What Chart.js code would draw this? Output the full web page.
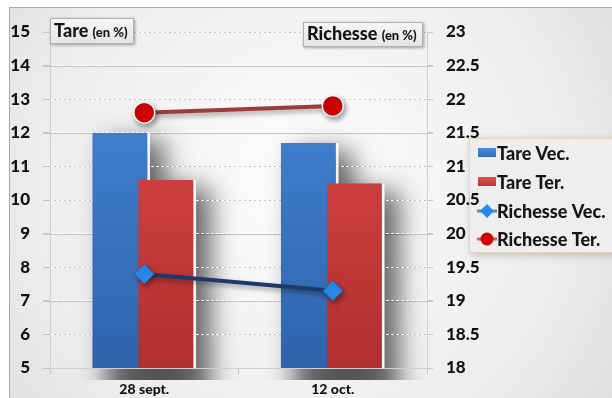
<!DOCTYPE html>
<html><head><meta charset="utf-8">
<script src="https://cdn.jsdelivr.net/npm/chart.js@4/dist/chart.umd.min.js"></script>
<style>html,body{margin:0;padding:0;background:#fff;}#wrap{width:612px;height:398px;position:relative}</style>
</head><body><div id="wrap"><canvas id="c" width="612" height="398"></canvas></div>
<script>
const categories = ['28 sept.', '12 oct.'];
const tareVec = [12.0, 11.7];
const tareTer = [10.6, 10.5];
const richesseVec = [19.4, 19.15];
const richesseTer = [21.8, 21.9];
const seriesNames = ['Tare Vec.', 'Tare Ter.', 'Richesse Vec.', 'Richesse Ter.'];
const leftTitle = ['Tare', '(en %)'];
const rightTitle = ['Richesse', '(en %)'];

const FONT = 'Lato, "DejaVu Sans", sans-serif';
const LEG = {x: 469, y: 138, w: 150, h: 115};

function vGrad(ctx, area, c1, c2) {
  const g = ctx.createLinearGradient(0, area.top, 0, area.bottom);
  g.addColorStop(0, c1); g.addColorStop(1, c2); return g;
}

const bgPlugin = {
  id: 'bg',
  beforeDraw(chart) {
    const ctx = chart.ctx, a = chart.chartArea;
    ctx.save();
    ctx.fillStyle = '#ffffff';
    ctx.fillRect(0, 0, 612, 398);
    const g = ctx.createRadialGradient(300, 170, 30, 300, 200, 420);
    g.addColorStop(0, '#fbfbfb');
    g.addColorStop(0.6, '#ededed');
    g.addColorStop(1, '#dadada');
    ctx.fillStyle = g;
    ctx.fillRect(9, 7, 603, 391);
    ctx.strokeStyle = '#a8a8a8';
    ctx.lineWidth = 1;
    ctx.beginPath();
    ctx.moveTo(9.5, 398); ctx.lineTo(9.5, 7.5); ctx.lineTo(612, 7.5);
    ctx.stroke();
    // grey underlay of the dashed grid lines
    const ys = chart.scales.y;
    ctx.strokeStyle = '#c4c4c4';
    ys.ticks.forEach(t => {
      const py = Math.round(ys.getPixelForValue(t.value)) + 0.5;
      ctx.beginPath(); ctx.moveTo(a.left - 7, py); ctx.lineTo(a.right + 6, py); ctx.stroke();
    });
    // soft drop shadows of the bars
    ctx.beginPath(); ctx.rect(a.left + 1, a.top, a.right - a.left - 1, a.bottom - a.top + 12); ctx.clip();
    [0, 1].forEach(di => {
      chart.getDatasetMeta(di).data.forEach(el => {
        const p = el.getProps(['x', 'y', 'base', 'width'], true);
        const left = p.x - p.width / 2;
        ctx.save();
        ctx.shadowColor = 'rgba(0,0,0,0.6)';
        ctx.shadowBlur = 26;
        ctx.shadowOffsetX = 2000 + 14;
        ctx.shadowOffsetY = 8;
        ctx.fillStyle = '#000';
        ctx.fillRect(left - 2000, p.y, p.width, p.base - p.y - 6);
        ctx.restore();
      });
    });
    ctx.restore();
    // legend box (drawn under the axis labels)
    ctx.save();
    ctx.shadowColor = 'rgba(0,0,0,0.22)'; ctx.shadowBlur = 8; ctx.shadowOffsetX = 2; ctx.shadowOffsetY = 2;
    ctx.fillStyle = '#eeeeee';
    ctx.fillRect(LEG.x, LEG.y, LEG.w, LEG.h);
    ctx.restore();
    ctx.save();
    ctx.strokeStyle = '#ddd8bc'; ctx.lineWidth = 1;
    ctx.strokeRect(LEG.x + 0.5, LEG.y + 0.5, LEG.w, LEG.h - 1);
    ctx.restore();
  }
};

const drawOrderPlugin = {
  id: 'drawOrder',
  beforeDatasetsDraw(chart) {
    // draw the first (blue) bar series before the others so the red one overlaps it
    const meta = chart.getDatasetMeta(0);
    const ctx = chart.ctx, a = chart.chartArea;
    ctx.save();
    ctx.beginPath(); ctx.rect(a.left, a.top, a.right - a.left, a.bottom - a.top); ctx.clip();
    meta.controller.draw();
    ctx.restore();
  },
  beforeDatasetDraw(chart, args) {
    if (args.index === 0) return false;
    const ctx = chart.ctx;
    ctx.save();
    if (args.meta.type !== 'bar') {
      ctx.shadowColor = 'rgba(0,0,0,0.35)'; ctx.shadowBlur = 5; ctx.shadowOffsetX = 2; ctx.shadowOffsetY = 3;
    }
  },
  afterDatasetDraw(chart, args) {
    if (args.index === 0) return;
    chart.ctx.restore();
  }
};

function drawTitleBox(ctx, x, y, w, h, parts) {
  ctx.save();
  ctx.shadowColor = 'rgba(0,0,0,0.35)'; ctx.shadowBlur = 3; ctx.shadowOffsetX = 1; ctx.shadowOffsetY = 1;
  const g = ctx.createLinearGradient(0, y, 0, y + h);
  g.addColorStop(0, '#f7f7f7'); g.addColorStop(1, '#e4e4e4');
  ctx.fillStyle = g; ctx.fillRect(x, y, w, h);
  ctx.restore();
  ctx.save();
  ctx.strokeStyle = '#b0b0b0'; ctx.lineWidth = 1;
  ctx.strokeRect(x + 0.5, y + 0.5, w - 1, h - 1);
  ctx.fillStyle = '#151515'; ctx.textBaseline = 'alphabetic';
  let cx = x + 4;
  ctx.font = '900 18px ' + FONT; ctx.fillText(parts[0], cx, y + h - 7);
  cx += ctx.measureText(parts[0] + ' ').width;
  ctx.font = '900 13px ' + FONT; ctx.fillText(parts[1], cx, y + h - 7);
  ctx.restore();
}

const overlayPlugin = {
  id: 'overlay',
  afterDraw(chart) {
    const ctx = chart.ctx;
    drawTitleBox(ctx, 50, 18, 84, 26, leftTitle);
    drawTitleBox(ctx, 303, 22, 120, 25, rightTitle);
    ctx.save();
    const ds = chart.data.datasets;
    const rows = [153, 182, 211, 239];
    ctx.font = '900 18px ' + FONT; ctx.textBaseline = 'middle'; ctx.fillStyle = '#161616';
    ds.forEach((d, i) => {
      const y = rows[i];
      if (d.type === 'bar') {
        const g = ctx.createLinearGradient(0, y - 5, 0, y + 5);
        g.addColorStop(0, d.legendColor[0]); g.addColorStop(1, d.legendColor[1]);
        ctx.fillStyle = g; ctx.fillRect(478, y - 5, 18, 9);
      } else {
        ctx.strokeStyle = d.legendLine; ctx.lineWidth = 3;
        ctx.beginPath(); ctx.moveTo(477, y); ctx.lineTo(497, y); ctx.stroke();
        ctx.fillStyle = d.pointBackgroundColor;
        ctx.beginPath();
        if (d.pointStyle === 'rectRot') {
          ctx.moveTo(487, y - 7); ctx.lineTo(494, y); ctx.lineTo(487, y + 7); ctx.lineTo(480, y); ctx.closePath();
        } else {
          ctx.arc(487, y, 6.5, 0, Math.PI * 2);
        }
        ctx.fill();
      }
      ctx.fillStyle = '#161616';
      ctx.fillText(d.label, 497, y + 1);
    });
    ctx.restore();
  }
};

const ctx = document.getElementById('c').getContext('2d');
const chart = new Chart(ctx, {
  data: {
    labels: categories,
    datasets: [
      {
        type: 'bar', label: seriesNames[0], data: tareVec, yAxisID: 'y', order: 0,
        backgroundColor: (c) => c.chart.chartArea ? vGrad(c.chart.ctx, c.chart.chartArea, '#4789db', '#2f63ab') : '#3a78c8',
        borderColor: 'rgba(255,255,255,0.9)', borderWidth: {top: 0, right: 3, bottom: 0, left: 0}, borderSkipped: false,
        categoryPercentage: 0.488, barPercentage: 1.26,
        legendColor: ['#4a8ee0', '#2f64ad']
      },
      {
        type: 'bar', label: seriesNames[1], data: tareTer, yAxisID: 'y', order: 0,
        backgroundColor: (c) => c.chart.chartArea ? vGrad(c.chart.ctx, c.chart.chartArea, '#e24a4a', '#b02f2f') : '#d04040',
        borderColor: 'rgba(255,255,255,0.95)', borderWidth: {top: 0, right: 3, bottom: 0, left: 0}, borderSkipped: false,
        categoryPercentage: 0.488, barPercentage: 1.26,
        legendColor: ['#e05050', '#b83232']
      },
      {
        type: 'line', label: seriesNames[2], data: richesseVec, yAxisID: 'y2', order: -1,
        borderColor: '#1f3a6a', borderWidth: 4,
        pointStyle: 'rectRot', pointRadius: 10, pointBackgroundColor: '#2a8ae8', pointBorderColor: '#1d66bf', pointBorderWidth: 1,
        legendLine: '#5b86c8'
      },
      {
        type: 'line', label: seriesNames[3], data: richesseTer, yAxisID: 'y2', order: -1,
        borderColor: '#9c3b3b', borderWidth: 4,
        pointStyle: 'circle', pointRadius: 10.5, pointBackgroundColor: '#d30000', pointBorderColor: '#f0f0f0', pointBorderWidth: 1.5,
        legendLine: '#c46060'
      }
    ]
  },
  options: {
    responsive: false, animation: false, devicePixelRatio: 1,
    layout: {padding: {left: 9, right: 125, top: 32, bottom: 0}},
    plugins: {legend: {display: false}, tooltip: {enabled: false}},
    scales: {
      x: {
        offset: true,
        grid: {display: true, drawOnChartArea: false, tickLength: 6, color: '#c4c4c4'},
        border: {color: '#cfcfcf'},
        ticks: {color: '#111', font: {family: FONT, weight: '900', size: 14}, padding: 7},
        afterFit(s) { s.height = 30; }
      },
      y: {
        position: 'left', min: 5, max: 15,
        ticks: {stepSize: 1, color: '#111', font: {family: FONT, weight: '900', size: 17}, padding: 13},
        grid: {color: 'rgba(255,255,255,0.95)', tickLength: 7, tickColor: '#c4c4c4'},
        border: {color: '#d0d0d0', dash: [3, 2]},
        afterFit(s) { s.width = 41; }
      },
      y2: {
        position: 'right', min: 18, max: 23,
        ticks: {stepSize: 0.5, color: '#111', font: {family: FONT, weight: '900', size: 17}, padding: 13,
          callback: (v) => String(v)},
        grid: {drawOnChartArea: false, tickLength: 6, color: '#c8c8c8'},
        border: {color: '#d0d0d0'},
        afterFit(s) { s.width = 60; }
      }
    }
  },
  plugins: [bgPlugin, drawOrderPlugin, overlayPlugin]
});
</script></body></html>
